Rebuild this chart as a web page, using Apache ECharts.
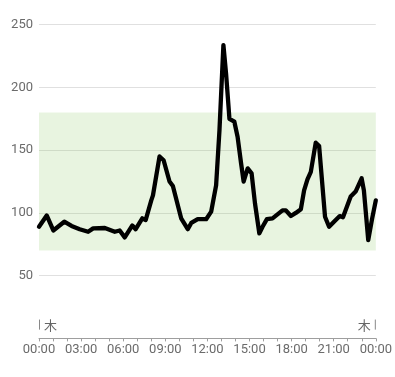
<!DOCTYPE html>
<html>
<head>
<meta charset="utf-8">
<script src="https://cdn.jsdelivr.net/npm/echarts@6/dist/echarts.min.js"></script>
<style>
html,body{margin:0;padding:0;background:#fff;}
#c{width:395px;height:377px;}
</style>
</head>
<body>
<div id="c"></div>
<script>
// hours of day
var hours = [0.00,0.55,1.02,1.80,2.32,2.90,3.50,3.86,4.69,5.40,5.75,6.11,6.65,6.89,7.36,7.60,8.00,8.12,8.59,8.88,9.30,9.54,10.13,10.60,10.85,11.31,11.91,12.27,12.62,12.86,13.14,13.33,13.57,13.92,14.15,14.40,14.58,14.87,15.15,15.39,15.70,15.93,16.24,16.64,17.35,17.59,17.95,18.30,18.66,18.89,19.13,19.37,19.72,19.96,20.38,20.67,21.02,21.43,21.66,22.21,22.56,22.99,23.15,23.46,23.74,24.00];
var values = [89,98,86,93,89.6,87,85,87.7,88,85,86,80.5,90,87,95.7,94.3,110,114,145,142,125,121.4,95.7,87,92,95,95,101,122,166,233.8,211,175,172.7,160.7,139.5,125,135.5,131.5,107.6,83.7,89,95,95.7,102,102,97.5,100,103,118,126.8,132.8,156,153.3,97,89,93,97.5,96.5,113,117,127.6,118,78.4,95.7,110];
var rangeLow = 70, rangeHigh = 180;
var yTicks = [0,50,100,150,200,250];
var dayLabel = '木';

var data = hours.map(function(h,i){return [h, values[i]];});
var chart = echarts.init(document.getElementById('c'));
var txt = '#6b6b6b';
chart.setOption({
  animation:false,
  grid:{left:39,right:18,top:24.7,bottom:38.6},
  xAxis:{type:'value',min:0,max:24,interval:3,
    axisLine:{show:true,lineStyle:{color:'#9e9e9e',width:1}},
    axisTick:{show:true,length:3,lineStyle:{color:'#9e9e9e'}},
    minorTick:{show:true,splitNumber:3,length:3,lineStyle:{color:'#9e9e9e'}},
    splitLine:{show:false},
    axisLabel:{color:txt,fontSize:13,fontFamily:'Roboto',margin:5,
      formatter:function(v){var h=Math.round(v)%24;return (h<10?'0':'')+h+':00';}}
  },
  yAxis:{type:'value',min:yTicks[0],max:yTicks[yTicks.length-1],interval:50,
    axisLine:{show:false},axisTick:{show:false},
    splitLine:{lineStyle:{color:'#e0e0e0',width:1}},
    axisLabel:{color:txt,fontSize:13,fontFamily:'Roboto',margin:6,
      formatter:function(v){return v===0?'':String(v);}}
  },
  series:[{type:'line',data:data,showSymbol:false,symbol:'none',
    lineStyle:{color:'#000',width:4.3,join:'round',cap:'round'},
    markArea:{silent:true,itemStyle:{color:'rgba(140,200,100,0.2)'},
      data:[[{yAxis:rangeLow},{yAxis:rangeHigh}]]}
  }]
});
var p0 = chart.convertToPixel({gridIndex:0},[0,15]);
var p0b = chart.convertToPixel({gridIndex:0},[0,7]);
var p1 = chart.convertToPixel({gridIndex:0},[24,15]);
var p1b = chart.convertToPixel({gridIndex:0},[24,7]);
chart.setOption({graphic:[
  {type:'line',shape:{x1:p0[0]+0.5,y1:p0[1],x2:p0b[0]+0.5,y2:p0b[1]},style:{stroke:'#888',lineWidth:1}},
  {type:'text',x:p0[0]+5,y:(p0[1]+p0b[1])/2,style:{text:dayLabel,fill:'#666',font:'13px "Noto Sans CJK JP"',textAlign:'left',textVerticalAlign:'middle'}},
  {type:'line',shape:{x1:p1[0]-0.5,y1:p1[1],x2:p1b[0]-0.5,y2:p1b[1]},style:{stroke:'#888',lineWidth:1}},
  {type:'text',x:p1[0]-5,y:(p1[1]+p1b[1])/2,style:{text:dayLabel,fill:'#666',font:'13px "Noto Sans CJK JP"',textAlign:'right',textVerticalAlign:'middle'}}
]});
</script>
</body>
</html>
